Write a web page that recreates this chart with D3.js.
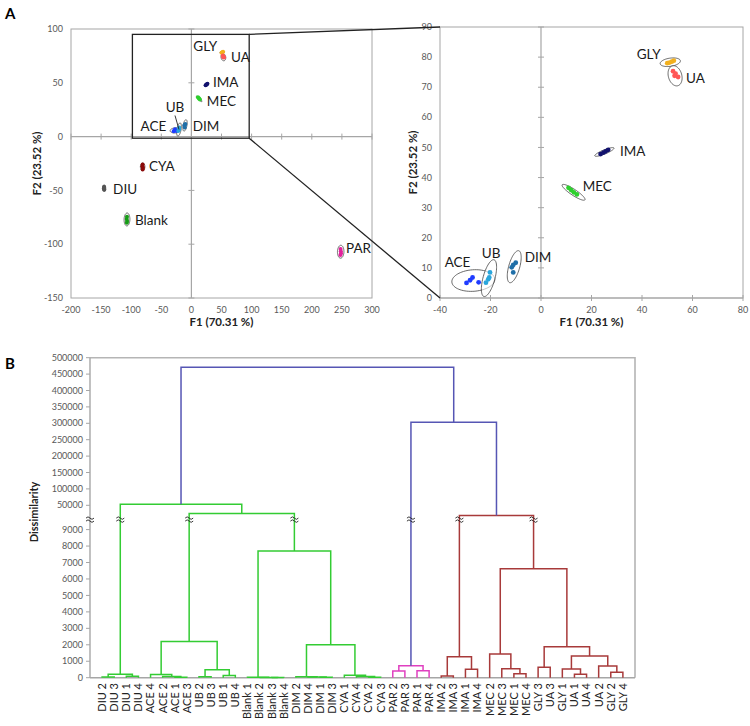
<!DOCTYPE html>
<html><head><meta charset="utf-8">
<script src="https://cdn.jsdelivr.net/npm/d3@7"></script>
<style>
body{margin:0;background:#fff}
svg{display:block;font-family:Lato,'Liberation Sans',sans-serif}
</style>
</head><body>
<svg id="c" width="750" height="726"></svg>
<script>
// ================= DATA =================
// Panel A : PCA scores (F1, F2) of the 44 observations
const groups = ["ACE","UB","DIM","MEC","IMA","GLY","UA","CYA","DIU","Blank","PAR"];
const groupColors = ["#1f3cff","#2aa6dc","#1f6fa8","#2ed02e","#12126e","#f2b01e","#ff5656","#8b0a0a","#555555","#179c17","#e2229c"];
const obsGroup = [
 "ACE","ACE","ACE","ACE","UB","UB","UB","UB","DIM","DIM","DIM","DIM",
 "MEC","MEC","MEC","MEC","IMA","IMA","IMA","IMA","GLY","GLY","GLY","GLY",
 "UA","UA","UA","UA","CYA","CYA","CYA","CYA","DIU","DIU","DIU","DIU",
 "Blank","Blank","Blank","Blank","PAR","PAR","PAR","PAR"];
const obsF1 = [
 -29.5,-28.1,-27.1,-24.7, -21.8,-20.9,-20.2,-20.5, -11.0,-10.0,-11.6,-11.0,
 10.9,12.0,13.0,14.2, 23.6,24.7,25.6,26.6, 50.0,50.9,51.8,52.6,
 52.3,52.9,54.3,53.3, -81.0,-81.5,-80.5,-81.0, -145.0,-145.3,-144.7,-145.0,
 -107.0,-107.5,-106.8,-107.2, 247.8,248.2,248.5,247.6];
const obsF2 = [
 5.0,5.9,6.8,5.2, 5.1,6.2,8.5,6.8, 11.0,11.7,10.2,8.5,
 36.6,35.8,35.1,34.4, 47.8,48.3,48.7,49.2, 78.0,78.2,78.5,78.8,
 75.3,73.8,73.4,74.5, -26.0,-27.5,-29.0,-30.5, -46.5,-48.0,-49.5,-48.8,
 -74.5,-76.5,-78.5,-80.0, -104.5,-106.5,-108.5,-110.0];
// Confidence ellipses (centre, semi-major vector in data units, minor/major ratio)
const ellCx = [-26.8,-20.6,-10.6,12.9,25.1,51.2,53.1,-81,-145,-107,248];
const ellCy = [5.8,6.6,10.4,35.1,48.5,78.3,73.8,-28,-48,-77,-107];
const ellUx = [8.5,2.0,1.8,4.5,3.8,4.0,-1.1,0,0,0.3,0.3];
const ellUy = [0.5,6.1,5.3,-2.5,1.3,0.5,3.3,3.5,3.0,6.0,6.0];
const ellRatio = [0.5,0.31,0.33,0.22,0.2,0.4,0.65,0.6,0.5,0.45,0.5];
const zoomGroups = ["ACE","UB","DIM","MEC","IMA","GLY","UA"];
const xTicksA = [-200,-150,-100,-50,0,50,100,150,200,250,300];
const yTicksA = [-150,-100,-50,0,50,100];
const xTicksZ = [-40,-20,0,20,40,60,80];
const yTicksZ = [0,10,20,30,40,50,60,70,80,90];
const zoomBoxF1 = [-98,96];
const zoomBoxF2 = [-1.5,95];
const axisTitleX = "F1 (70.31 %)";
const axisTitleY = "F2 (23.52 %)";

// Panel B : dendrogram (AHC)
const leaves = [
 "DIU 2","DIU 3","DIU 1","DIU 4","ACE 4","ACE 2","ACE 1","ACE 3",
 "UB 2","UB 3","UB 1","UB 4","Blank 1","Blank 2","Blank 3","Blank 4",
 "DIM 2","DIM 4","DIM 1","DIM 3","CYA 1","CYA 4","CYA 2","CYA 3",
 "PAR 2","PAR 3","PAR 1","PAR 4","IMA 2","IMA 3","IMA 1","IMA 4",
 "MEC 2","MEC 3","MEC 1","MEC 4","GLY 3","UA 3","GLY 1","UA 1",
 "UA 4","UA 2","GLY 2","GLY 4"];
// [node, childA, childB, dissimilarity]
const merges = [
 ["diuA","DIU 2","DIU 3",50],["diuB","DIU 1","DIU 4",90],["DIU","diuA","diuB",210],
 ["aceA","ACE 1","ACE 3",30],["aceB","ACE 2","aceA",70],["ACE","ACE 4","aceB",190],
 ["ubA","UB 2","UB 3",60],["ubB","UB 1","UB 4",140],["UB","ubA","ubB",480],
 ["ACE+UB","ACE","UB",2200],
 ["blA","Blank 3","Blank 4",8],["blB","Blank 2","blA",15],["Blank","Blank 1","blB",25],
 ["dimA","DIM 1","DIM 3",20],["dimB","DIM 4","dimA",40],["DIM","DIM 2","dimB",60],
 ["cyaA","CYA 2","CYA 3",30],["cyaB","CYA 4","cyaA",70],["CYA","CYA 1","cyaB",150],
 ["DIM+CYA","DIM","CYA",2000],["B+D+C","Blank","DIM+CYA",7700],
 ["G2","ACE+UB","B+D+C",36000],["G1","DIU","G2",53000],
 ["parA","PAR 2","PAR 3",400],["parB","PAR 1","PAR 4",420],["PAR","parA","parB",730],
 ["imaA","IMA 2","IMA 3",100],["imaB","IMA 1","IMA 4",510],["IMA","imaA","imaB",1280],
 ["mecA","MEC 1","MEC 4",245],["mecB","MEC 3","mecA",550],["MEC","MEC 2","mecB",1440],
 ["guA","GLY 3","UA 3",630],["guB","UA 1","UA 4",205],["guC","GLY 1","guB",530],
 ["guD","GLY 2","GLY 4",330],["guE","UA 2","guD",710],["guF","guC","guE",1320],
 ["GU","guA","guF",1880],["M+GU","MEC","GU",6620],
 ["R1","IMA","M+GU",33000],["B1","PAR","R1",303000],["root","G1","B1",471000]];
const clusterRoots = ["G1","PAR","R1"];
const clusterColors = ["#33cc33","#e040c0","#a83a3a"];
const rootColor = "#5656b4";
const dTicksLow = [0,1000,2000,3000,4000,5000,6000,7000,8000,9000];
const dTicksHigh = [50000,100000,150000,200000,250000,300000,350000,400000,450000,500000];
const dAxisTitle = "Dissimilarity";

// ================= LAYOUT =================
const svg = d3.select("#c");
const gridCol = "#a6a6a6";
const tickCol = "#595959";

const xA = d3.scaleLinear().domain([-200,300]).range([71,372]);
const yA = d3.scaleLinear().domain([-150,100]).range([298,29]);
const xZ = d3.scaleLinear().domain([-40,80]).range([440,743]);
const yZ = d3.scaleLinear().domain([0,90]).range([298,27]);

const labelsA = {
 GLY:{a:"end",dx:-5,dy:-1}, UA:{a:"start",dx:7.6,dy:4.4}, IMA:{a:"start",dx:6.4,dy:2.2},
 MEC:{a:"start",dx:7.7,dy:7.3}, UB:{a:"middle",dx:-4,dy:-17.4}, ACE:{a:"end",dx:-9,dy:0.7},
 DIM:{a:"start",dx:7.7,dy:5.2}, CYA:{a:"start",dx:6.4,dy:4.4}, DIU:{a:"start",dx:9,dy:5.4},
 Blank:{a:"start",dx:8,dy:6}, PAR:{a:"start",dx:5.3,dy:0.9}};
const labelsZ = {
 GLY:{a:"end",dx:-9.6,dy:-2.9}, UA:{a:"start",dx:11,dy:7.5}, IMA:{a:"start",dx:15.6,dy:4},
 MEC:{a:"start",dx:9.1,dy:-1.3}, UB:{a:"middle",dx:2.2,dy:-19.8}, ACE:{a:"middle",dx:-15.8,dy:-13.8},
 DIM:{a:"start",dx:10.5,dy:-5}};

function ellipsePath(x, y, i){
  const cx = x(ellCx[i]), cy = y(ellCy[i]);
  const ux = x(ellCx[i]+ellUx[i]) - cx, uy = y(ellCy[i]+ellUy[i]) - cy;
  const vx = -uy*ellRatio[i], vy = ux*ellRatio[i];
  const pts = d3.range(0, 2*Math.PI+0.001, Math.PI/36).map(t =>
    [cx + ux*Math.cos(t) + vx*Math.sin(t), cy + uy*Math.cos(t) + vy*Math.sin(t)]);
  return d3.line()(pts) + "Z";
}

function scatter(x, y, xTicks, yTicks, shown, labels, r, leader, titleX, titleYx){
  const g = svg.append("g");
  const [x0,x1] = x.range(), [y0,y1] = y.range();
  g.append("rect").attr("x",x0).attr("y",y1).attr("width",x1-x0).attr("height",y0-y1)
   .attr("fill","none").attr("stroke",gridCol).attr("stroke-width",1);
  g.append("line").attr("x1",x(0)).attr("x2",x(0)).attr("y1",y0).attr("y2",y1)
   .attr("stroke",gridCol).attr("stroke-width",1.2);
  g.append("line").attr("x1",x0).attr("x2",x1).attr("y1",y(0)).attr("y2",y(0))
   .attr("stroke",gridCol).attr("stroke-width",1.2);
  yTicks.forEach(t => {
    g.append("line").attr("x1",x(0)-3).attr("x2",x(0)+3).attr("y1",y(t)).attr("y2",y(t))
     .attr("stroke",gridCol);
    g.append("text").attr("x",x0-8).attr("y",y(t)).attr("dy","0.35em").attr("text-anchor","end")
     .attr("font-size",9).attr("fill",tickCol).text(t);
  });
  xTicks.forEach(t => {
    g.append("line").attr("x1",x(t)).attr("x2",x(t)).attr("y1",y(0)-3).attr("y2",y(0)+3)
     .attr("stroke",gridCol);
    g.append("text").attr("x",x(t)).attr("y",y0+15).attr("text-anchor","middle")
     .attr("font-size",9).attr("fill",tickCol).text(t);
  });
  g.append("text").attr("x",(x0+x1)/2 - (titleX||0)).attr("y",326).attr("text-anchor","middle")
   .attr("font-size",11.5).attr("font-weight","bold").attr("fill","#222").text(axisTitleX);
  g.append("text").attr("transform",`translate(${titleYx},${(y0+y1)/2}) rotate(-90)`)
   .attr("text-anchor","middle").attr("font-size",11.5).attr("font-weight","bold")
   .attr("fill","#222").text(axisTitleY);

  shown.forEach(name => {
    const i = groups.indexOf(name);
    g.append("path").attr("d",ellipsePath(x,y,i)).attr("fill","#fff").attr("fill-opacity",0.6)
     .attr("stroke","#444").attr("stroke-width",0.8);
  });
  obsGroup.forEach((gn,k) => {
    if(!shown.includes(gn)) return;
    g.append("circle").attr("cx",x(obsF1[k])).attr("cy",y(obsF2[k])).attr("r",r)
     .attr("fill",groupColors[groups.indexOf(gn)]);
  });
  shown.forEach(name => {
    const i = groups.indexOf(name), L = labels[name];
    const cx = x(ellCx[i]), cy = y(ellCy[i]);
    g.append("text").attr("x",cx+L.dx).attr("y",cy+L.dy).attr("text-anchor",L.a)
     .attr("font-size",13.5).attr("fill","#1a1a1a").text(name);
    if(leader && name==="UB"){
      g.append("line").attr("x1",cx-4).attr("y1",cy-14).attr("x2",cx).attr("y2",cy)
       .attr("stroke","#222").attr("stroke-width",0.9);
    }
  });
  return g;
}

scatter(xA, yA, xTicksA, yTicksA, groups, labelsA, 2, true, 0, 41);
scatter(xZ, yZ, xTicksZ, yTicksZ, zoomGroups, labelsZ, 2.4, false, 0, 417);

// zoom box and connector lines
svg.append("rect").attr("x",xA(zoomBoxF1[0])).attr("y",yA(zoomBoxF2[1]))
 .attr("width",xA(zoomBoxF1[1])-xA(zoomBoxF1[0])).attr("height",yA(zoomBoxF2[0])-yA(zoomBoxF2[1]))
 .attr("fill","none").attr("stroke","#222").attr("stroke-width",1.3);
svg.append("line").attr("x1",xA(zoomBoxF1[1])).attr("y1",yA(zoomBoxF2[1]))
 .attr("x2",xZ(-40)).attr("y2",yZ(90)).attr("stroke","#222").attr("stroke-width",1.3);
svg.append("line").attr("x1",xA(zoomBoxF1[1])).attr("y1",yA(zoomBoxF2[0]))
 .attr("x2",xZ(-40)).attr("y2",yZ(0)).attr("stroke","#222").attr("stroke-width",1.3);

// panel letters
svg.append("text").attr("x",5).attr("y",19).attr("font-size",15).attr("font-weight","bold").text("A");
svg.append("text").attr("x",5).attr("y",369).attr("font-size",15).attr("font-weight","bold").text("B");

// ================= DENDROGRAM =================
const xD = d3.scalePoint().domain(leaves).range([90,635]).padding(1);
const yD = d3.scaleLinear().domain([0,9000,50000,500000]).range([677.7,529.6,505.3,357.7]);
const breakY = yD(9000) - 10;
const gD = svg.append("g");

// frame
gD.append("path").attr("d",`M90,${yD(500000)}H635V${yD(0)}`).attr("fill","none")
  .attr("stroke","#b5b5b5").attr("stroke-width",1.6);
gD.append("line").attr("x1",90).attr("x2",635).attr("y1",yD(0)).attr("y2",yD(0))
  .attr("stroke",gridCol).attr("stroke-width",1.4);
gD.append("line").attr("x1",90).attr("x2",90).attr("y1",yD(0)).attr("y2",yD(500000))
  .attr("stroke",gridCol).attr("stroke-width",1.4);
dTicksLow.concat(dTicksHigh).forEach(t => {
  gD.append("line").attr("x1",86).attr("x2",90).attr("y1",yD(t)).attr("y2",yD(t)).attr("stroke",gridCol);
  gD.append("text").attr("x",83).attr("y",yD(t)).attr("dy","0.35em").attr("text-anchor","end")
    .attr("font-size",9).attr("fill",tickCol).text(t);
});
gD.append("text").attr("transform",`translate(38,512) rotate(-90)`).attr("text-anchor","middle")
  .attr("font-size",11).attr("font-weight","bold").attr("fill","#222").text(dAxisTitle);

// positions
const pos = {}, hgt = {}, parent = {};
leaves.forEach(l => { pos[l] = xD(l); hgt[l] = 0; });
merges.forEach(([n,a,b,h]) => { pos[n] = (pos[a]+pos[b])/2; hgt[n] = h; parent[a] = n; parent[b] = n; });
const colorOf = {};
[...merges].reverse().forEach(([n]) => {
  const ci = clusterRoots.indexOf(n);
  colorOf[n] = ci >= 0 ? clusterColors[ci] : (parent[n] ? colorOf[parent[n]] : rootColor);
});
const breaks = [90];
merges.forEach(([n,a,b,h]) => {
  const y = yD(h), c = colorOf[n];
  gD.append("path")
    .attr("d",`M${pos[a]},${yD(hgt[a])}V${y}H${pos[b]}V${yD(hgt[b])}`)
    .attr("fill","none").attr("stroke",c).attr("stroke-width",1.5);
  [a,b].forEach(ch => { if(yD(hgt[ch]) > breakY && y < breakY) breaks.push(pos[ch]); });
});
breaks.forEach(bx => {
  const p = `M${bx-4},${breakY-1.5} q2,-2.5 4,0 t4,0 M${bx-4},${breakY+1.5} q2,-2.5 4,0 t4,0`;
  gD.append("path").attr("d",p).attr("fill","none").attr("stroke","#222").attr("stroke-width",0.9);
});
leaves.forEach(l => {
  gD.append("text").attr("transform",`translate(${xD(l)},683) rotate(-90)`)
    .attr("dy","0.35em").attr("text-anchor","end").attr("font-size",11).attr("fill","#222").text(l);
});
</script>
</body></html>
